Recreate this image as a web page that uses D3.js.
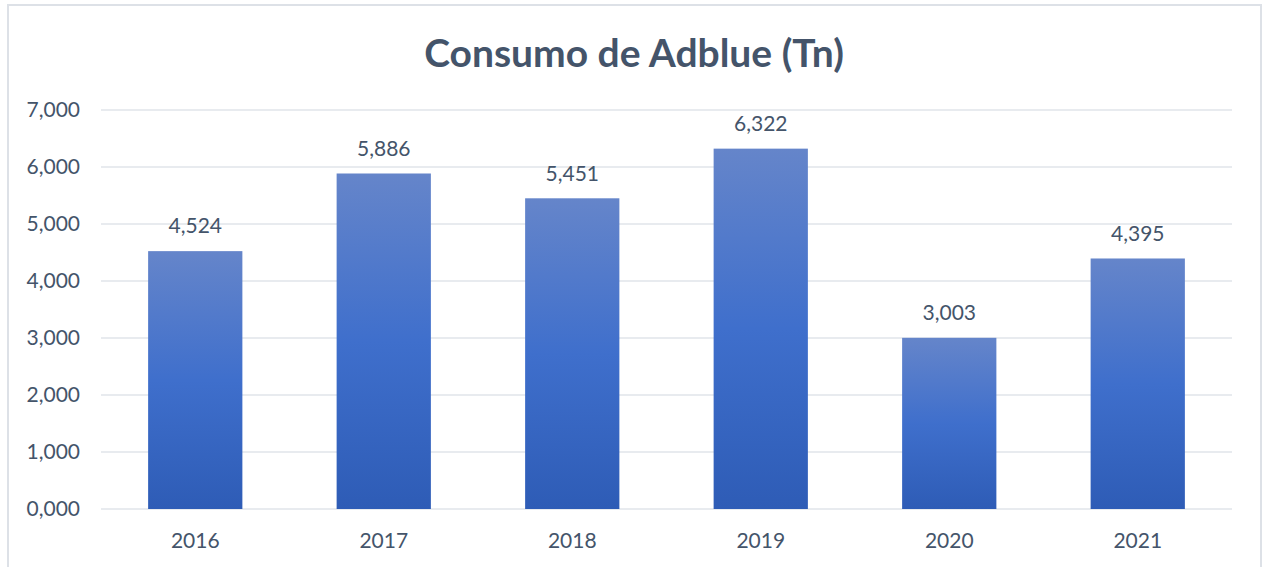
<!DOCTYPE html>
<html>
<head>
<meta charset="utf-8">
<script src="https://cdn.jsdelivr.net/npm/d3@7"></script>
<style>
  body { margin: 0; background: #fff; }
  svg { display: block; font-family: Lato, "Open Sans", sans-serif; }
  .grid line { stroke: #e0e4ea; stroke-width: 1.5; }
  .tick-label { fill: #44546a; font-size: 21px; }
  .value-label { fill: #44546a; font-size: 21px; }
  .title { fill: #44546a; font-size: 39px; font-weight: bold; }
</style>
</head>
<body>
<div id="chart"></div>
<script>
const years = ["2016", "2017", "2018", "2019", "2020", "2021"];
const consumo = [4524, 5886, 5451, 6322, 3003, 4395];
const valueLabels = ["4,524", "5,886", "5,451", "6,322", "3,003", "4,395"];
const yTicks = [0, 1000, 2000, 3000, 4000, 5000, 6000, 7000];
const yTickLabels = ["0,000", "1,000", "2,000", "3,000", "4,000", "5,000", "6,000", "7,000"];

const W = 1263, H = 567;
const plot = {left: 101, right: 1232, top: 110, bottom: 509};

const svg = d3.select("#chart").append("svg")
    .attr("width", W).attr("height", H);

// chart frame (bottom edge is cut off in the picture)
svg.append("path")
    .attr("d", `M8,${H + 2}V5H1261V${H + 2}`)
    .attr("fill", "none")
    .attr("stroke", "#dde1e7")
    .attr("stroke-width", 2);

const defs = svg.append("defs");
const grad = defs.append("linearGradient")
    .attr("id", "barGrad")
    .attr("x1", 0).attr("y1", 0).attr("x2", 0).attr("y2", 1);
grad.append("stop").attr("offset", "0%").attr("stop-color", "#6585ca");
grad.append("stop").attr("offset", "50%").attr("stop-color", "#3f6fcc");
grad.append("stop").attr("offset", "100%").attr("stop-color", "#2e5cb6");

const x = d3.scaleBand().domain(years).range([plot.left, plot.right]).paddingInner(0.5).paddingOuter(0.25);
const y = d3.scaleLinear().domain([0, 7000]).range([plot.bottom, plot.top]);

// gridlines
svg.append("g").attr("class", "grid")
    .selectAll("line").data(yTicks).enter().append("line")
    .attr("x1", plot.left).attr("x2", plot.right)
    .attr("y1", d => y(d)).attr("y2", d => y(d));

// y tick labels
svg.append("g").selectAll("text").data(yTicks).enter().append("text")
    .attr("class", "tick-label")
    .attr("x", 80)
    .attr("y", d => y(d))
    .attr("dy", "0.35em")
    .attr("text-anchor", "end")
    .text((d, i) => yTickLabels[i]);

// bars
svg.append("g").selectAll("rect").data(years).enter().append("rect")
    .attr("x", d => x(d))
    .attr("width", x.bandwidth())
    .attr("y", (d, i) => y(consumo[i]))
    .attr("height", (d, i) => y(0) - y(consumo[i]))
    .attr("fill", "url(#barGrad)");

// value labels
svg.append("g").selectAll("text").data(years).enter().append("text")
    .attr("class", "value-label")
    .attr("x", d => x(d) + x.bandwidth() / 2)
    .attr("y", (d, i) => y(consumo[i]) - 25)
    .attr("dy", "0.35em")
    .attr("text-anchor", "middle")
    .text((d, i) => valueLabels[i]);

// category labels
svg.append("g").selectAll("text").data(years).enter().append("text")
    .attr("class", "tick-label")
    .attr("x", d => x(d) + x.bandwidth() / 2)
    .attr("y", 541)
    .attr("dy", "0.35em")
    .attr("text-anchor", "middle")
    .text(d => d);

svg.append("text")
    .attr("class", "title")
    .attr("x", 634).attr("y", 53)
    .attr("dy", "0.35em")
    .attr("text-anchor", "middle")
    .text("Consumo de Adblue (Tn)");
</script>
</body>
</html>
